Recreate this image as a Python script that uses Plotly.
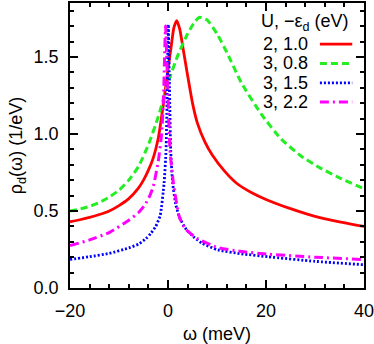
import plotly.graph_objects as go

# spectral function rho_d(omega)
omega_red = [-20, -18, -16, -14, -12, -10, -8, -6, -5, -4, -3, -2, -1, 0, 0.6, 1.2, 1.8, 2.4, 3,
             4, 5, 6, 7.5, 9, 11.5, 14, 17, 20, 25, 30, 35, 40]
rho_red = [0.43, 0.443, 0.458, 0.477, 0.50, 0.535, 0.58, 0.65, 0.70, 0.765, 0.845, 0.97, 1.18,
           1.42, 1.556, 1.69, 1.736, 1.68, 1.57, 1.38, 1.2, 1.07, 0.95, 0.865, 0.76, 0.68, 0.62,
           0.575, 0.515, 0.465, 0.43, 0.40]

omega_green = [-20, -18, -16, -14, -12, -10, -8, -6, -4, -2, 0, 2, 4, 5.5, 6.5, 8, 10, 12, 15,
               19, 23, 27, 31, 35, 40]
rho_green = [0.50, 0.512, 0.53, 0.555, 0.59, 0.635, 0.70, 0.79, 0.93, 1.11, 1.33, 1.51, 1.65,
             1.73, 1.757, 1.74, 1.65, 1.53, 1.33, 1.13, 0.97, 0.86, 0.78, 0.715, 0.645]

omega_blue = [-20, -16, -12, -8, -6, -4.5, -3.5, -2.5, -1.6, -0.8, -0.4, -0.2, 0.06, 0.3, 0.55,
              0.95, 1.6, 2.3, 3.5, 5.2, 7, 10.2, 15, 20.4, 30, 40]
rho_blue = [0.186, 0.203, 0.225, 0.26, 0.285, 0.32, 0.355, 0.40, 0.47, 0.68, 0.896, 1.2, 1.71, 1.3,
            0.896, 0.68, 0.54, 0.463, 0.39, 0.333, 0.29, 0.247, 0.222, 0.203, 0.173, 0.151]

omega_mag = [-20, -16, -12, -8, -6, -4.7, -3.7, -3.0, -2.0, -1.3, -0.9, -0.5, -0.1, 0.4, 1.1, 2.3,
             3.5, 5.9, 10.2, 15, 20.4, 30, 40]
rho_mag = [0.275, 0.312, 0.36, 0.44, 0.49, 0.54, 0.60, 0.66, 0.82, 1.0, 1.25, 1.70, 1.35, 0.896,
           0.68, 0.463, 0.385, 0.322, 0.262, 0.237, 0.22, 0.20, 0.184]

labels = ["2, 1.0", "3, 0.8", "3, 1.5", "3, 2.2"]
colors = ["#ff0000", "#22ee22", "#0000ff", "#ff00ff"]
dashes = ["solid", "7px,4px", "2px,2px", "9px,4px,2px,4px"]
widths = [2.8, 3, 2.8, 3]

series = [(omega_red, rho_red), (omega_green, rho_green), (omega_blue, rho_blue), (omega_mag, rho_mag)]

fig = go.Figure()
for (x, y), name, c, d, w in zip(series, labels, colors, dashes, widths):
    fig.add_trace(go.Scatter(x=x, y=y, mode="lines", name=name,
                             line=dict(color=c, dash=d, width=w, shape="spline", smoothing=0.5)))

# gnuplot-style key: text first, then the line sample
fig.add_annotation(x=0.955, y=0.93, xref="paper", yref="paper", xanchor="right", yanchor="middle",
                   showarrow=False, text="U, −ε<sub>d</sub> (eV)", font=dict(size=18))
rows = [0.856, 0.788, 0.72, 0.653]
for yr, name, c, d, w in zip(rows, labels, colors, dashes, widths):
    fig.add_annotation(x=0.815, y=yr, xref="paper", yref="paper", xanchor="right", yanchor="middle",
                       showarrow=False, text=name, font=dict(size=18))
    fig.add_shape(type="line", xref="paper", yref="paper", x0=0.85, x1=0.96, y0=yr, y1=yr,
                  line=dict(color=c, dash=d, width=w))

axis_common = dict(showgrid=False, zeroline=False, showline=True, linecolor="black", linewidth=1.5,
                   mirror="allticks", ticks="inside", ticklen=8, tickcolor="black", tickwidth=1.5,
                   tickfont=dict(size=18, color="black"), automargin=False, ticklabeloverflow="allow")
fig.update_xaxes(range=[-20, 40], dtick=20, ticklabelstandoff=6,
                 title=dict(text="ω (meV)", font=dict(size=18), standoff=12),
                 minor=dict(ticks="inside", dtick=4, ticklen=4, tickcolor="black", tickwidth=1.5),
                 **axis_common)
fig.update_yaxes(range=[0, 1.85], dtick=0.5, tickformat=".1f", ticklabelstandoff=6,
                 title=dict(text="ρ<sub>d</sub>(ω) (1/eV)", font=dict(size=18), standoff=6),
                 minor=dict(ticks="inside", dtick=0.1, ticklen=4, tickcolor="black", tickwidth=1.5),
                 **axis_common)
fig.update_layout(width=374, height=344, margin=dict(l=70, r=10, t=3, b=56),
                  plot_bgcolor="white", paper_bgcolor="white", showlegend=False,
                  font=dict(family="Liberation Sans, Arial, sans-serif", color="black"))
fig.write_html("out.html", config={"displayModeBar": False},
               post_script="document.body.style.margin='0';")
